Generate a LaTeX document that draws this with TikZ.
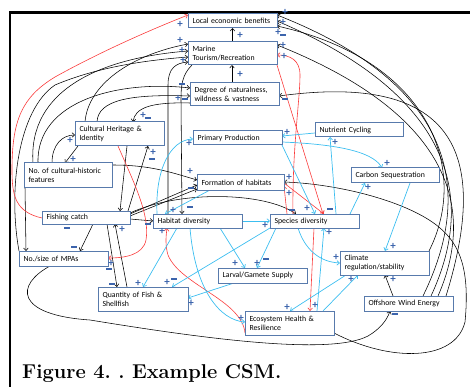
\documentclass[tikz,border=0pt]{standalone}
\usepackage{fontspec}
\newfontfamily\boxfont{Carlito}
\usetikzlibrary{arrows.meta}
\definecolor{boxc}{RGB}{88,122,172}
\definecolor{signc}{RGB}{60,100,172}
\definecolor{cyanc}{RGB}{60,190,240}
\definecolor{redc}{RGB}{250,60,60}
\pgfdeclarelayer{bg}
\pgfsetlayers{bg,main}
\newcounter{sg}
\newcommand\SgP[2]{\stepcounter{sg}\node[plussign] (sg\arabic{sg}) at (#1,#2) {+};}
\newcommand\SgM[2]{\stepcounter{sg}\node[minussign] (sg\arabic{sg}) at (#1,#2) {};}
\begin{document}
\frenchspacing
\begin{tikzpicture}[x=1pt,y=-1pt,
 bx/.style={draw=boxc, line width=1pt, fill=white, outer sep=0pt, inner xsep=4.5pt, inner ysep=0pt, align=left, text width=80pt, minimum height=14pt, font=\boxfont\fontsize{7.8}{9.2}\selectfont},
 plussign/.style={text=signc, font=\boxfont\bfseries\fontsize{11}{11}\selectfont, inner sep=0pt},
 minussign/.style={fill=signc, minimum width=6pt, minimum height=2.6pt, inner sep=0pt},
 arr/.style={-{Straight Barb[length=2.6pt,width=4.6pt]}},
 bk/.style={draw=black, line width=0.55pt, arr},
 rd/.style={draw=redc, line width=0.6pt, arr},
 cy/.style={draw=cyanc, line width=0.7pt, arr}]
\useasboundingbox (0,0) rectangle (470,387);
\draw[line width=2.2pt] (10,387) -- (10,12.5) -- (470,12.5);

\node[bx] (loc) at (232.5,21) {Local economic benefits};
\node[bx, minimum height=23pt] (mar) at (232.5,53.5) {Marine\\Tourism/Recreation};
\node[bx, minimum height=23pt] (deg) at (234.5,94.5) {Degree of naturalness,\\wildness \& vastness};
\node[bx, minimum height=24pt] (cul) at (119.5,134) {Cultural Heritage \&\\Identity};
\node[bx, minimum height=24pt, text width=79pt] (noc) at (68,175) {No.\ of cultural-historic\\features};
\node[bx] (pri) at (237.5,138) {Primary Production};
\node[bx, text width=79pt] (nut) at (359,130) {Nutrient Cycling};
\node[bx, text width=78pt, minimum height=15pt] (for) at (240.5,182.5) {Formation of habitats};
\node[bx, text width=79pt, minimum height=15pt] (car) at (395,175.5) {Carbon Sequestration};
\node[bx, text width=79pt, minimum height=13pt] (fis) at (86,217.5) {Fishing catch};
\node[bx] (hab) at (197.5,221) {Habitat diversity};
\node[bx] (spe) at (314.5,221) {Species diversity};
\node[bx, minimum height=15pt] (mpa) at (63.5,258.5) {No./size of MPAs};
\node[bx, minimum height=15pt] (lar) at (262.5,275.5) {Larval/Gamete Supply};
\node[bx, text width=81pt, minimum height=24pt] (qua) at (143,299) {Quantity of Fish \&\\Shellfish};
\node[bx, minimum height=24pt] (cli) at (384.5,263) {Climate\\regulation/stability};
\node[bx, minimum height=15pt] (off) at (408.5,303.5) {Offshore Wind Energy};
\node[bx, minimum height=24pt] (eco) at (289.5,323) {Ecosystem Health \&\\Resilience};

\node[anchor=base west, inner sep=0pt, font=\fontsize{20}{24}\selectfont\bfseries] (cap) at (22,378) {Figure 4. . Example CSM.};

\begin{pgfonlayer}{bg}
% black
\draw[bk] (mar.north) -- (loc.south);
\draw[bk] (232,0 |- deg.north) -- (232,0 |- mar.south);
\draw[bk] (423,0 |- off.north) .. controls (475,190) and (455,85) .. (loc.east |- 0,15);
\draw[bk] (431,0 |- off.north) .. controls (478,195) and (450,95) .. (loc.east |- 0,21);
\draw[bk] (438,0 |- off.north) .. controls (480,200) and (440,110) .. (mar.east |- 0,45);
\draw[bk] (446,0 |- off.north) .. controls (485,170) and (470,70) .. (deg.east |- 0,96);
\draw[bk] (cli.north east) .. controls (470,170) and (430,60) .. (loc.east |- 0,26);
\draw[bk] (eco.east |- 0,333) .. controls (390,362) and (455,362) .. (465,322) .. controls (470,270) and (460,245) .. (440,228) .. controls (410,202) and (340,184) .. (for.east |- 0,182);
\draw[bk] (50,0 |- mpa.south) .. controls (15,285) and (15,315) .. (90,320) .. controls (200,338) and (330,356) .. (368,336) .. controls (380,329) and (387,320) .. (390,0 |- off.south);
\draw[bk] (fis.east |- 0,213) .. controls (180,190) and (265,192) .. (296,0 |- spe.north);
\draw[bk] (168,0 |- hab.north) -- (168,85) .. controls (168,68) and (176,63) .. (mar.west |- 0,62);
\draw[bk] (192,0 |- mar.south) .. controls (182,75) and (181,85) .. (181,100) -- (182,0 |- hab.north);
\draw[bk] (33,0 |- noc.north) .. controls (28,90) and (100,58) .. (mar.west |- 0,51);
\draw[bk] (38,0 |- noc.north) .. controls (36,100) and (120,80) .. (deg.west |- 0,88);
\draw[bk] (mpa.north west) .. controls (8,190) and (18,110) .. (55,85) .. controls (100,66) and (150,60) .. (mar.west |- 0,57);
\draw[bk] (85,0 |- cul.north) .. controls (88,85) and (130,55) .. (mar.west |- 0,44);
\draw[bk] (97,0 |- cul.north) .. controls (98,100) and (130,94) .. (deg.west |- 0,96);
\draw[bk] (deg.west |- 0,103) .. controls (150,102) and (135,108) .. (133,0 |- cul.north);
\draw[bk] (52,0 |- noc.north) .. controls (52,145) and (62,135) .. (cul.west |- 0,135);
\draw[bk] (78,0 |- cul.south) -- (65,0 |- noc.north);
\draw[bk] (noc.east |- 0,165) .. controls (150,165) and (170,172) .. (for.west |- 0,180);
\draw[bk] (25,0 |- noc.south) -- (26,0 |- mpa.north);
\draw[bk] (127,0 |- cul.south) -- (120,0 |- fis.north);
\draw[bk] (128,0 |- fis.north) -- (148,0 |- cul.south);
\draw[bk] (fis.east |- 0,219) -- (hab.west |- 0,221);
\draw[bk] (fis.east |- 0,214) -- (for.west |- 0,185);
\draw[bk] (fis.east |- 0,216) -- (for.west |- 0,189);
\draw[bk] (93,0 |- fis.south) -- (80,0 |- mpa.north);
\draw[bk] (107,0 |- fis.south) -- (117,0 |- qua.north);
\draw[bk] (127,0 |- qua.north) -- (115,0 |- fis.south);
\draw[bk] (393,0 |- off.north) -- (385,0 |- cli.south);
% red
\draw[rd] (fis.west |- 0,218) .. controls (15,212) and (12,195) .. (12,170) .. controls (12,120) and (22,97) .. (55,77) .. controls (100,52) and (150,30) .. (loc.west |- 0,15);
\draw[rd] (118,0 |- cul.south) .. controls (135,185) and (150,215) .. (146,240) .. controls (143,255) and (125,258) .. (mpa.east |- 0,258);
\draw[rd] (293,0 |- spe.north) .. controls (292,150) and (300,100) .. (300,75) .. controls (300,60) and (290,55) .. (mar.east |- 0,55);
\draw[rd] (mar.south east) -- (323,0 |- spe.north);
\draw[rd] (287,0 |- spe.north) -- (for.east |- 0,186);
\draw[rd] (for.east |- 0,183) -- (324,0 |- spe.north);
\draw[rd] (eco.west |- 0,333) .. controls (242,300) and (180,285) .. (168,255) .. controls (165,245) and (166,236) .. (167,0 |- hab.south);
\draw[rd] (314,0 |- spe.south) -- (310,0 |- eco.north);
% cyan
\draw[cy] (nut.west |- 0,133) -- (pri.east |- 0,136);
\draw[cy] (pri.east |- 0,142) .. controls (330,144) and (372,150) .. (382,0 |- car.north);
\draw[cy] (336,0 |- spe.north) -- (330,0 |- nut.south);
\draw[cy] (pri.south east) -- (315,0 |- spe.north);
\draw[cy] (157,0 |- hab.north) .. controls (155,170) and (170,140) .. (pri.west |- 0,139);
\draw[cy] (210,0 |- for.south) -- (165,0 |- hab.north);
\draw[cy] (hab.east |- 0,221) -- (spe.west |- 0,221);
\draw[cy] (220,0 |- hab.south) -- (245,0 |- lar.north);
\draw[cy] (276,0 |- spe.south) -- (257,0 |- lar.north);
\draw[cy] (177,0 |- hab.south) -- (143,0 |- qua.north);
\draw[cy] (spe.south west) -- (172,0 |- qua.north);
\draw[cy] (234,0 |- lar.south) -- (qua.east |- 0,298);
\draw[cy] (190,0 |- hab.south) .. controls (195,290) and (220,320) .. (eco.west |- 0,322);
\draw[cy] (298,0 |- spe.south) .. controls (305,250) and (320,262) .. (cli.west |- 0,263);
\draw[cy] (350,0 |- spe.north) -- (365,0 |- car.south);
\draw[cy] (410,0 |- car.south) -- (385,0 |- cli.north);
\draw[cy] (346,0 |- cli.south) -- (290,0 |- eco.north);
\draw[cy] (323,0 |- eco.north) -- (358,0 |- cli.south);
\draw[cy] (317,0 |- eco.north) -- (324,0 |- spe.south);
\end{pgfonlayer}

% signs
\SgP{240}{35}\SgP{240}{74}\SgP{180}{24}\SgP{285}{12}\SgP{283}{22}\SgP{278}{32}
\SgP{283}{45}\SgP{284}{56}\SgP{180}{40}\SgP{182}{50}\SgP{183}{60}\SgP{178}{98}
\SgP{143}{115}\SgP{70}{140}\SgP{73}{159}\SgP{153}{152}\SgP{189}{143}\SgP{190}{171}
\SgP{287}{132}\SgP{335}{142}\SgP{387}{163}\SgP{289}{177}\SgP{289}{193}\SgP{173}{210}
\SgP{122}{229}\SgP{162}{231}\SgP{265}{225}\SgP{307}{208}\SgP{329}{232}\SgP{368}{187}
\SgP{393}{246}\SgP{336}{257}\SgP{351}{279}\SgP{393}{279}\SgP{287}{307}\SgP{315}{305}
\SgP{241}{318}\SgP{235}{263}\SgP{257}{263}\SgP{138}{283}\SgP{167}{282}\SgP{191}{303}
\SgP{111}{263}
\SgM{283}{35}\SgM{285}{99}\SgM{182}{84}\SgM{185}{99}\SgM{148}{118}\SgM{152}{159}
\SgM{191}{188}\SgM{190}{207}\SgM{148}{224}\SgM{292}{210}\SgM{330}{209}\SgM{67}{228}
\SgM{74}{247}\SgM{109}{269}\SgM{112}{284}\SgM{266}{259}\SgM{174}{279}\SgM{395}{314}
\end{tikzpicture}
\end{document}
